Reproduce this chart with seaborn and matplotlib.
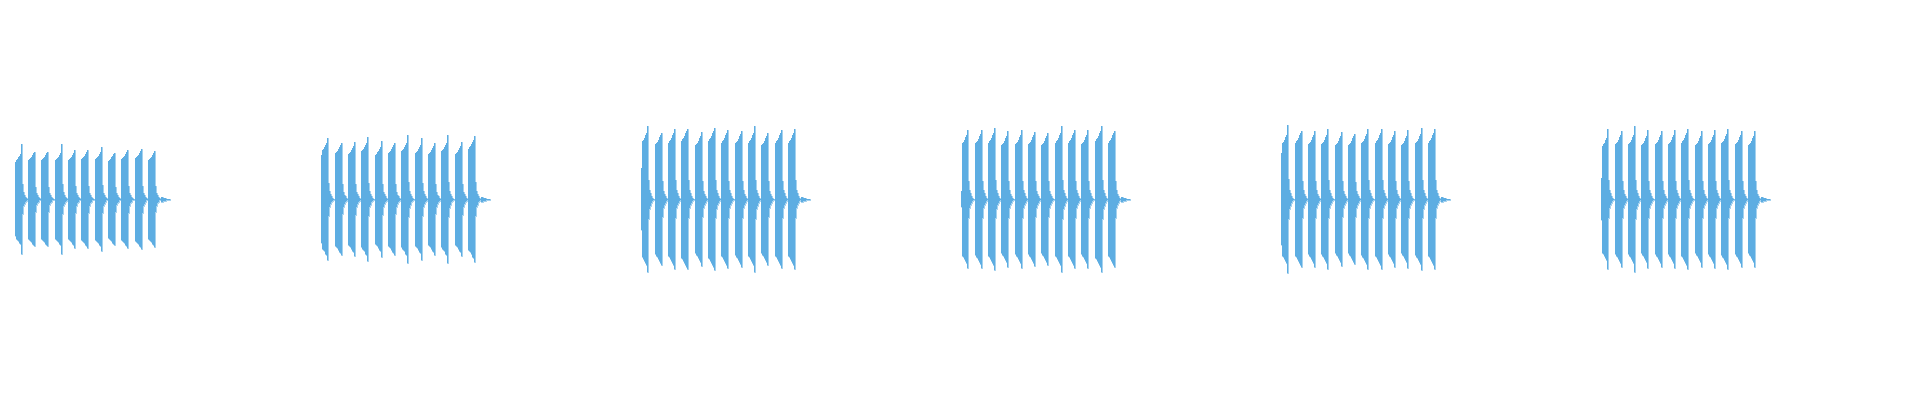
import matplotlib
matplotlib.use("Agg")
import matplotlib.pyplot as plt
import pandas as pd
import seaborn as sns

# six clips of the same drum pattern, drawn as mirrored waveform columns
# level of the tall spike at the end of every hit
spikes_1 = [55, 47, 47, 55, 49, 49, 52, 46, 49, 50, 48]
spikes_2 = [61, 56, 57, 62, 58, 56, 64, 61, 56, 64, 57, 63]
spikes_3 = [73, 66, 70, 70, 67, 71, 69, 68, 73, 66, 69, 70]
spikes_4 = [69, 69, 71, 68, 69, 67, 66, 73, 69, 69, 73, 68]
spikes_5 = [74, 68, 68, 70, 67, 65, 70, 70, 68, 69, 71, 70]
spikes_6 = [70, 68, 73, 69, 68, 69, 70, 68, 69, 70, 68, 68]

# level of the body of every hit, just before the spike
plateau_1 = [45, 46, 46, 46, 46, 47, 47, 45, 47, 48, 46]
plateau_2 = [56, 54, 53, 56, 52, 54, 56, 54, 53, 56, 53, 59]
plateau_3 = [66, 64, 66, 68, 63, 68, 66, 65, 66, 63, 66, 66]
plateau_4 = [64, 65, 66, 63, 64, 64, 63, 66, 66, 64, 68, 66]
plateau_5 = [64, 66, 64, 64, 63, 63, 65, 66, 64, 63, 65, 66]
plateau_6 = [61, 64, 64, 63, 64, 64, 66, 63, 64, 65, 64, 63]

# first column of each clip, first beat the clip starts on
onset_level = [37, 44, 31, 8, 46, 21]
first_beat = [1, 0, 0, 0, 0, 0]

# shape of one hit (relative values) and the ring-out after the last one
ramp = [0.86, 0.88, 0.90, 0.93, 0.97, 1.0]
decay = [0.27, 0.13, 0.085, 0.05, 0.023, 0.01]
ring_out = [2.5, 2.5, 1.5, 1.3, 1.3, 0.7, 0.7, 0.7, 0.7]

step = 0.075  # beats per waveform column
wave_color = "#5DADE2"

clips = [list(zip(spikes_1, plateau_1)), list(zip(spikes_2, plateau_2)),
         list(zip(spikes_3, plateau_3)), list(zip(spikes_4, plateau_4)),
         list(zip(spikes_5, plateau_5)), list(zip(spikes_6, plateau_6))]

sns.set_theme(style="white")
fig, axes = plt.subplots(1, 6, figsize=(19.2, 4), dpi=100)
fig.subplots_adjust(left=0, right=1, bottom=0, top=1, wspace=0)

for i, ax in enumerate(axes):
    t = []
    level = []
    for k, (spike, plat) in enumerate(clips[i]):
        beat = first_beat[i] + k
        col = [plat * r for r in ramp] + [spike] + [spike * d for d in decay]
        if k == 0:
            col[0] = onset_level[i]
        for j, v in enumerate(col):
            t.append(beat + j * step)
            level.append(v)
        # short silence until the next hit
        t.append(beat + len(col) * step)
        level.append(0)
    t.pop()
    level.pop()
    last = t[-1]
    for j, v in enumerate(ring_out + [0]):
        t.append(last + (j + 1) * step)
        level.append(v)

    df = pd.DataFrame({"t": t, "level": level})
    df["neg"] = -df["level"]
    ax.fill_between(df["t"], df["neg"], df["level"], step="post",
                    color=wave_color, linewidth=0)
    sns.lineplot(data=df, x="t", y="level", drawstyle="steps-post", estimator=None,
                 sort=False, color=wave_color, linewidth=0.4, ax=ax)
    sns.lineplot(data=df, x="t", y="neg", drawstyle="steps-post", estimator=None,
                 sort=False, color=wave_color, linewidth=0.4, ax=ax)
    ax.set_xlim(-0.1, 23.9)
    ax.set_ylim(-200.7, 199.3)
    ax.axis("off")

fig.savefig("out.png", dpi=100)
